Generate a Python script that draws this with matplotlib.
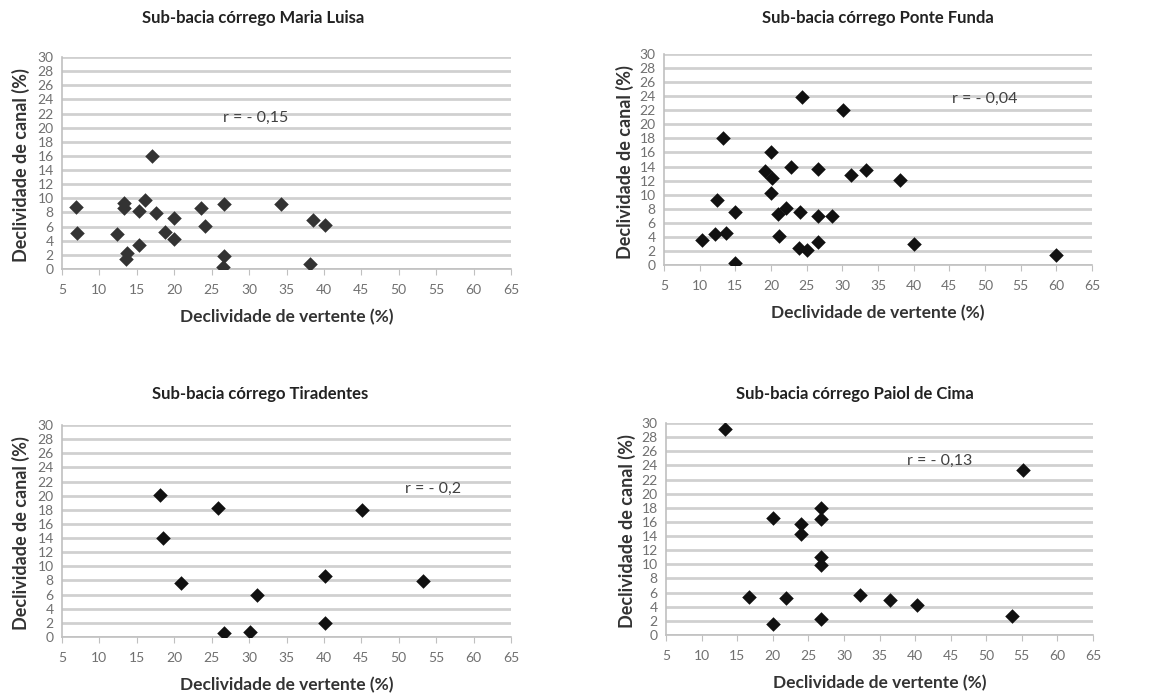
import matplotlib
matplotlib.use("Agg")
import matplotlib.pyplot as plt

plt.rcParams['font.family'] = ['Lato', 'DejaVu Sans']

# Sub-bacia córrego Maria Luisa
ml_x = [6.9, 7.0, 13.3, 13.3, 12.3, 13.7, 13.5, 15.3, 16.1, 15.3, 17.0, 17.6,
        18.8, 20.0, 20.0, 23.6, 24.1, 26.6, 26.6, 26.5, 34.3, 38.5, 40.1, 38.1]
ml_y = [8.8, 5.1, 9.4, 8.7, 5.0, 2.2, 1.4, 8.2, 9.8, 3.4, 16.0, 7.9,
        5.2, 7.2, 4.2, 8.6, 6.1, 9.2, 1.8, 0.3, 9.2, 7.0, 6.2, 0.7]

# Sub-bacia córrego Ponte Funda
pf_x = [10.3, 12.1, 12.4, 13.3, 13.7, 15.0, 15.0, 19.2, 20.0, 20.1, 20.0, 21.0,
        22.1, 21.1, 22.8, 24.0, 23.9, 24.3, 25.1, 26.6, 26.6, 26.6, 28.5, 30.1,
        31.2, 33.3, 38.1, 40.0, 60.0]
pf_y = [3.6, 4.4, 9.2, 18.1, 4.5, 7.6, 0.3, 13.4, 16.0, 12.3, 10.2, 7.3,
        8.1, 4.1, 14.0, 7.6, 2.4, 23.9, 2.1, 13.6, 7.0, 3.2, 7.0, 22.0,
        12.8, 13.5, 12.1, 3.0, 1.4]

# Sub-bacia córrego Tiradentes
ti_x = [18.1, 18.5, 25.8, 20.9, 26.7, 30.1, 31.1, 40.1, 40.1, 45.1, 53.2]
ti_y = [20.1, 14.0, 18.3, 7.7, 0.5, 0.7, 5.9, 8.6, 2.0, 18.0, 7.9]

# Sub-bacia córrego Paiol de Cima
pc_x = [13.3, 16.7, 20.1, 20.1, 21.9, 24.0, 24.0, 26.8, 26.8, 26.8, 26.8, 26.8,
        32.2, 36.5, 40.2, 53.6, 55.2]
pc_y = [29.2, 5.4, 16.6, 1.6, 5.2, 15.7, 14.3, 18.0, 16.4, 11.1, 9.9, 2.2,
        5.6, 4.9, 4.2, 2.7, 23.3]

panels = [
    ("Sub-bacia córrego Maria Luisa", ml_x, ml_y, "r = - 0,15", (30.9, 21.4), '#333333'),
    ("Sub-bacia córrego Ponte Funda", pf_x, pf_y, "r = - 0,04", (50.0, 23.6), '#111111'),
    ("Sub-bacia córrego Tiradentes", ti_x, ti_y, "r = - 0,2", (54.6, 20.9), '#111111'),
    ("Sub-bacia córrego Paiol de Cima", pc_x, pc_y, "r = - 0,13", (43.4, 24.7), '#111111'),
]

W, H = 1167, 695
fig = plt.figure(figsize=(W / 100, H / 100), dpi=100)

# axes boxes in pixels: left, top, right, bottom
boxes = [(62, 57, 511, 269), (664, 54, 1092, 265), (62, 425, 511, 637), (666, 423, 1093, 635)]
title_pos = [(253, 18), (878, 18), (260, 394), (855, 394)]

for (title, xs, ys, rtxt, rpos, col), (l, t, r, b), (tx, ty) in zip(panels, boxes, title_pos):
    ax = fig.add_axes([l / W, 1 - b / H, (r - l) / W, (b - t) / H])
    ax.scatter(xs, ys, marker='D', s=55, color=col, zorder=3, linewidths=0)
    ax.set_xlim(5, 65)
    ax.set_ylim(0, 30)
    ax.set_xticks(range(5, 66, 5))
    ax.set_yticks(range(0, 31, 2))
    ax.yaxis.grid(True, color='#d0d0d0', linewidth=2)
    ax.set_axisbelow(True)
    for s in ['top', 'right']:
        ax.spines[s].set_visible(False)
    for s in ['left', 'bottom']:
        ax.spines[s].set_color('#c0c0c0')
        ax.spines[s].set_linewidth(1.2)
    ax.tick_params(axis='x', direction='out', length=4, color='#c0c0c0',
                   labelsize=10, labelcolor='#707070', pad=7)
    ax.tick_params(axis='y', length=0, labelsize=10, labelcolor='#707070', pad=6)
    ax.set_xlabel("Declividade de vertente (%)", fontsize=12.5, fontweight='bold',
                  color='#333333', va='center')
    ax.xaxis.set_label_coords(0.5, -0.227)
    ax.set_ylabel("Declividade de canal (%)", fontsize=13, fontweight='bold',
                  color='#333333', va='center')
    ax.yaxis.set_label_coords(-0.092, 0.49)
    ax.text(rpos[0], rpos[1], rtxt, fontsize=11.5, color='#404040',
            ha='center', va='center')
    fig.text(tx / W, 1 - ty / H, title, fontsize=12, fontweight='bold',
             color='#222222', ha='center', va='center')

fig.savefig("out.png", dpi=100)
